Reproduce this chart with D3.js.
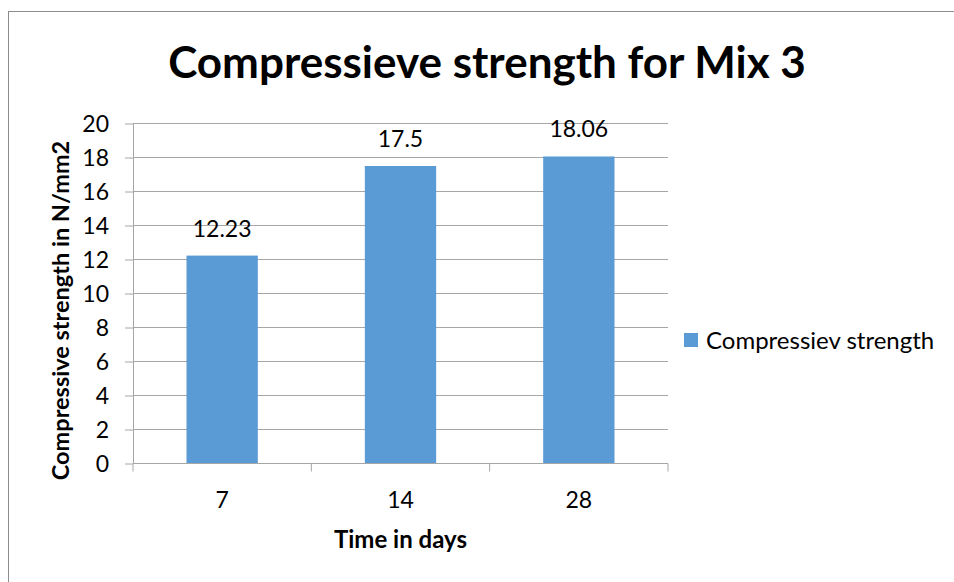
<!DOCTYPE html>
<html>
<head>
<meta charset="utf-8">
<script src="https://cdn.jsdelivr.net/npm/d3@7"></script>
<style>
  body { margin: 0; background: #fff; }
  svg text { font-family: Lato, "Open Sans", sans-serif; fill: #000; }
</style>
</head>
<body>
<svg id="chart" width="954" height="582"></svg>
<script>
// chart data
var categories = ["7", "14", "28"];
var strengthValues = [12.23, 17.5, 18.06];
var valueLabels = ["12.23", "17.5", "18.06"];
var yTicks = [0, 2, 4, 6, 8, 10, 12, 14, 16, 18, 20];
var seriesName = "Compressiev strength";

var svg = d3.select("#chart"),
    margin = { top: 123.5, left: 133, right: 286, bottom: 118.5 },
    width = 954 - margin.left - margin.right,
    height = 582 - margin.top - margin.bottom;

// outer chart border
svg.append("rect")
    .attr("x", 8.5).attr("y", 11.5)
    .attr("width", 960).attr("height", 600)
    .attr("fill", "none").attr("stroke", "#8c8c8c").attr("stroke-width", 1);

var g = svg.append("g").attr("transform", "translate(" + margin.left + "," + margin.top + ")");

var x = d3.scaleBand().domain(categories).range([0, width]).paddingInner(0.6).paddingOuter(0.3);
var y = d3.scaleLinear().domain([0, 20]).range([height, 0]);

// gridlines
g.selectAll(".grid")
    .data(yTicks)
    .enter().append("line")
    .attr("x1", 0).attr("x2", width)
    .attr("y1", function (d) { return y(d); })
    .attr("y2", function (d) { return y(d); })
    .attr("stroke", "#a6a6a6").attr("stroke-width", 1);

// bars
g.selectAll(".bar")
    .data(strengthValues)
    .enter().append("rect")
    .attr("x", function (d, i) { return x(categories[i]); })
    .attr("y", function (d) { return y(d); })
    .attr("width", x.bandwidth())
    .attr("height", function (d) { return height - y(d); })
    .attr("fill", "#5b9bd5");

// value labels
g.selectAll(".val")
    .data(strengthValues)
    .enter().append("text")
    .attr("x", function (d, i) { return x(categories[i]) + x.bandwidth() / 2; })
    .attr("y", function (d) { return y(d) - 19; })
    .attr("text-anchor", "middle")
    .style("font-size", "23px")
    .text(function (d, i) { return valueLabels[i]; });

// y axis
var yAxis = g.append("g")
    .call(d3.axisLeft(y).tickValues(yTicks).tickSize(8).tickPadding(16));
yAxis.select(".domain").attr("stroke", "#a6a6a6").attr("d", "M0.5," + height + "V0");
yAxis.selectAll(".tick line").attr("stroke", "#a6a6a6");
yAxis.selectAll(".tick text").style("font-size", "23px").attr("dy", "0.36em");

// x axis with ticks at band boundaries
var xAxisG = g.append("g").attr("transform", "translate(0," + height + ")");
xAxisG.append("line")
    .attr("x1", 0).attr("x2", width).attr("y1", 0).attr("y2", 0)
    .attr("stroke", "#a6a6a6");
var step = width / categories.length;
xAxisG.selectAll(".xtick")
    .data(d3.range(categories.length + 1))
    .enter().append("line")
    .attr("x1", function (d) { return d * step; })
    .attr("x2", function (d) { return d * step; })
    .attr("y1", 0).attr("y2", 8)
    .attr("stroke", "#a6a6a6");
xAxisG.selectAll(".xlabel")
    .data(categories)
    .enter().append("text")
    .attr("x", function (d) { return x(d) + x.bandwidth() / 2; })
    .attr("y", 44)
    .attr("text-anchor", "middle")
    .style("font-size", "23px")
    .text(function (d) { return d; });

// axis titles
g.append("text")
    .attr("x", width / 2).attr("y", height + 84)
    .attr("text-anchor", "middle")
    .style("font-size", "24px").style("font-weight", "bold")
    .text("Time in days");

g.append("text")
    .attr("transform", "translate(-64," + (height / 2 + 17) + ") rotate(-90)")
    .attr("text-anchor", "middle")
    .style("font-size", "23.5px").style("font-weight", "bold")
    .text("Compressive strength in N/mm2");

// title
svg.append("text")
    .attr("x", 487).attr("y", 78)
    .attr("text-anchor", "middle")
    .style("font-size", "44px").style("font-weight", "bold")
    .text("Compressieve strength for Mix 3");

// legend
var legend = svg.append("g").attr("transform", "translate(684,333)");
legend.append("rect").attr("width", 14).attr("height", 14).attr("fill", "#5b9bd5");
legend.append("text").attr("x", 22).attr("y", 16).style("font-size", "24px").text(seriesName);
</script>
</body>
</html>
